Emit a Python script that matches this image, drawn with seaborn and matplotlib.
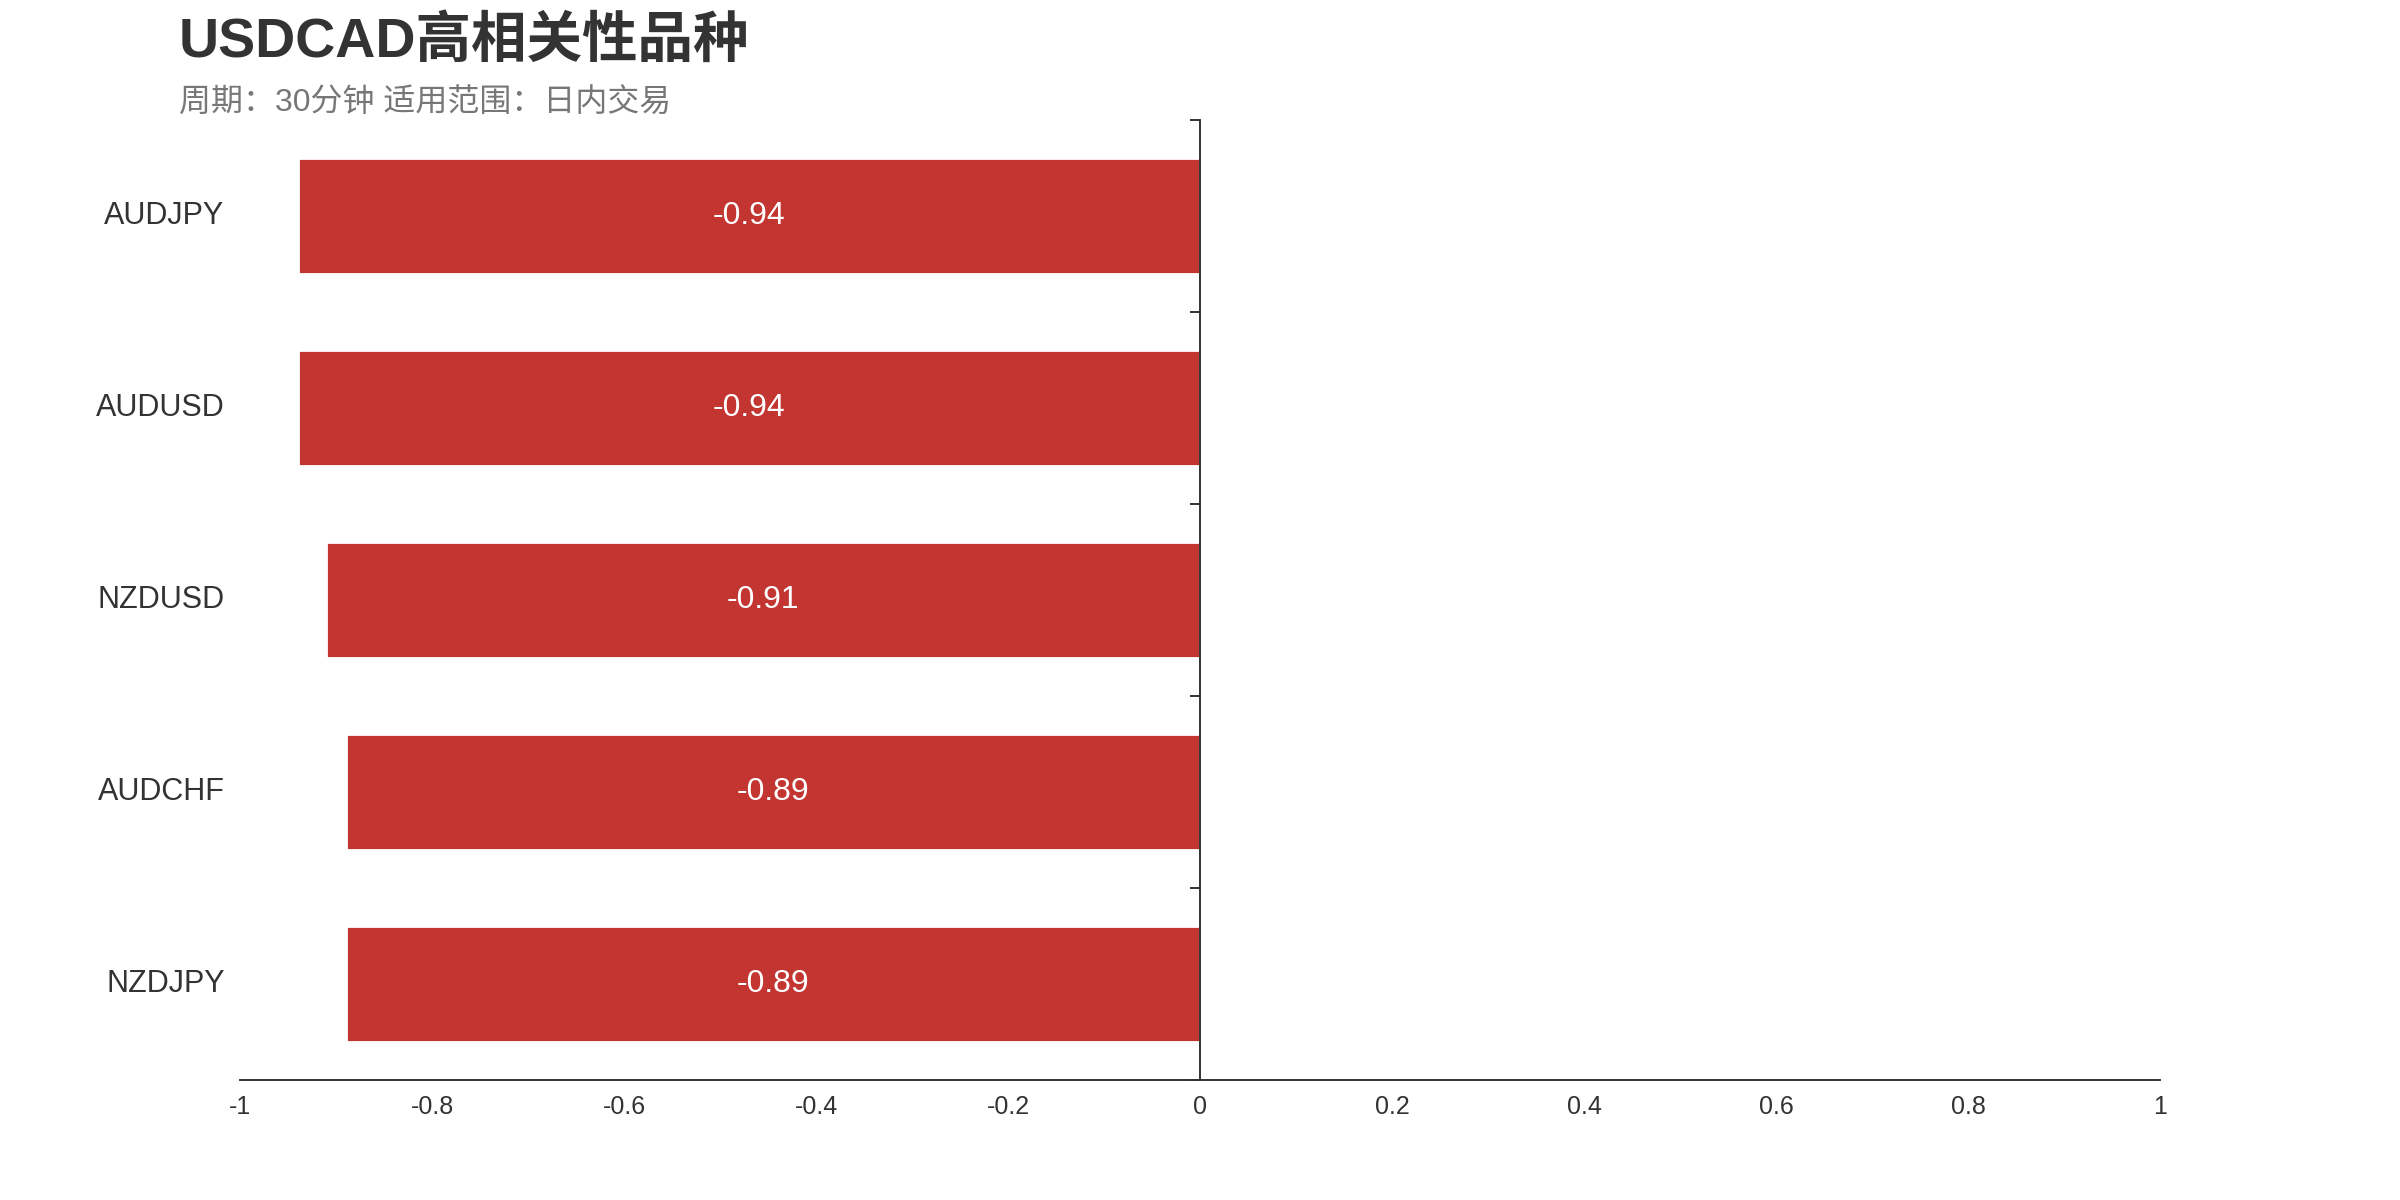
import matplotlib
matplotlib.use("Agg")
import matplotlib.pyplot as plt
import matplotlib.transforms as mtransforms
import seaborn as sns
import pandas as pd
import numpy as np

# dados
pares = ["AUDJPY", "AUDUSD", "NZDUSD", "AUDCHF", "NZDJPY"]
correlacao = [-0.94, -0.94, -0.91, -0.89, -0.89]
ticks_x = [-1, -0.8, -0.6, -0.4, -0.2, 0, 0.2, 0.4, 0.6, 0.8, 1]
rotulos_x = ["-1", "-0.8", "-0.6", "-0.4", "-0.2", "0", "0.2", "0.4", "0.6", "0.8", "1"]
titulo = "USDCAD高相关性品种"
subtitulo = "周期：30分钟 适用范围：日内交易"

sns.set_theme(style="white")
plt.rcParams['font.family'] = ['Liberation Sans', 'Noto Sans CJK SC', 'DejaVu Sans']

df = pd.DataFrame({"par": pares, "corr": correlacao})

fig = plt.figure(figsize=(12, 6), dpi=200)
ax = fig.add_axes([0.1, 0.1, 0.8, 0.8])

sns.barplot(data=df, x="corr", y="par", orient="h", color="#C23531",
            saturation=1, width=0.6, ax=ax)

ax.set_xlim(-1, 1)
ax.set_ylim(len(pares) - 0.5, -0.5)
ax.set_xlabel("")
ax.set_ylabel("")

# eixo y no zero, ticks nas fronteiras das categorias
ax.spines['left'].set_position(('data', 0))
ax.spines['top'].set_visible(False)
ax.spines['right'].set_visible(False)
for s in ['left', 'bottom']:
    ax.spines[s].set_color('#333333')
    ax.spines[s].set_linewidth(0.7)

ax.set_yticks(np.arange(-0.5, len(pares), 1))
ax.set_yticklabels([])
ax.tick_params(axis='y', length=3.6, width=0.7, color='#333333', direction='out', left=True)

ax.set_xticks(ticks_x)
ax.set_xticklabels(rotulos_x)
ax.tick_params(axis='x', length=0, pad=5.5, labelsize=9, labelcolor='#333333')

# rótulos das categorias na borda esquerda
trans = mtransforms.blended_transform_factory(ax.transAxes, ax.transData)
for i, p in enumerate(pares):
    ax.text(-0.008, i, p, transform=trans, ha='right', va='center',
            fontsize=11, color='#333333')

# valores dentro das barras
for i, v in enumerate(correlacao):
    ax.text(v / 2, i, f"{v:.2f}", ha='center', va='center',
            fontsize=11.5, color='white')

fig.text(0.0746, 0.953, titulo, fontsize=20, fontweight='bold',
         color='#333333', ha='left', va='baseline')
fig.text(0.0746, 0.907, subtitulo, fontsize=11.5, color='#777777',
         ha='left', va='baseline')

fig.savefig("out.png", dpi=200, facecolor='white')
plt.close(fig)
